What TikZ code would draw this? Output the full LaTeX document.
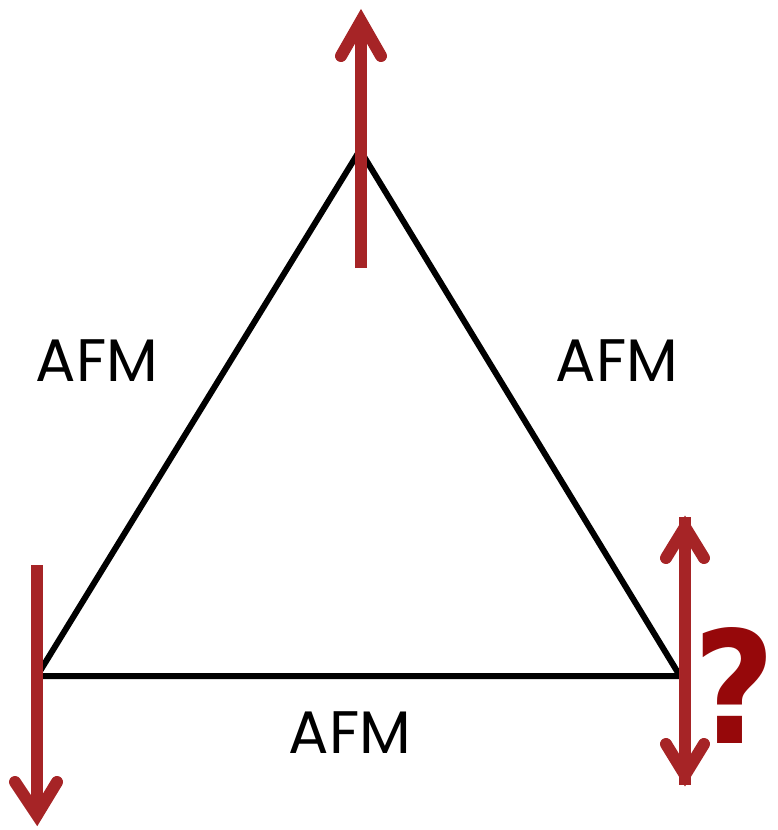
\documentclass[tikz,border=0pt]{standalone}
\usepackage{fontspec}
\setmainfont{Poppins}
\newfontfamily\qfont{DejaVu Sans}
\definecolor{spin}{RGB}{166,36,38}
\definecolor{qmark}{RGB}{150,8,10}
\begin{document}
\begin{tikzpicture}[x=1pt,y=-1pt,
  bond/.style={draw=black,line width=6pt,line join=miter},
  shaft/.style={draw=spin,line width=12pt,line cap=butt},
  head/.style={draw=spin,line width=12pt,line cap=round,line join=miter,miter limit=20},
  lbl/.style={font=\fontsize{60}{60}\selectfont,inner sep=0pt,text=black}]
\useasboundingbox (0,0) rectangle (777,830);
% triangle vertices
\coordinate (T) at (360,150);
\coordinate (L) at (37,676);
\coordinate (R) at (680,676);
\draw[bond] (T) -- (L) -- (R) -- cycle;
% top spin (up)
\coordinate (tb) at (361,268);
\coordinate (tt) at (361,21);
\coordinate (tw1) at (341,56);
\coordinate (tw2) at (381,56);
\draw[shaft] (tb) -- ([yshift=-10]tt);
\draw[head] (tw1) -- (tt) -- (tw2);
% left spin (down)
\coordinate (lb) at (37,565);
\coordinate (lt) at (37,815);
\coordinate (lw1) at (15,782);
\coordinate (lw2) at (57,782);
\draw[shaft] (lb) -- ([yshift=10]lt);
\draw[head] (lw1) -- (lt) -- (lw2);
% right spin (up and down)
\coordinate (rt) at (685,527);
\coordinate (rb) at (685,775);
\coordinate (ru1) at (666,558);
\coordinate (ru2) at (704,558);
\coordinate (rd1) at (666,744);
\coordinate (rd2) at (704,744);
\draw[shaft] ([yshift=10]rt) -- ([yshift=-10]rb);
\draw[head] (ru1) -- (rt) -- (ru2);
\draw[head] (rd1) -- (rb) -- (rd2);
% labels
\node[lbl] (afmL) at (97,361) {AFM};
\node[lbl] (afmR) at (617,361) {AFM};
\node[lbl] (afmB) at (350,733) {AFM};
\node[text=qmark,inner sep=0pt] (q) at (735,685)
  {\resizebox{82pt}{116pt}{\qfont\bfseries ?}};
\end{tikzpicture}
\end{document}
